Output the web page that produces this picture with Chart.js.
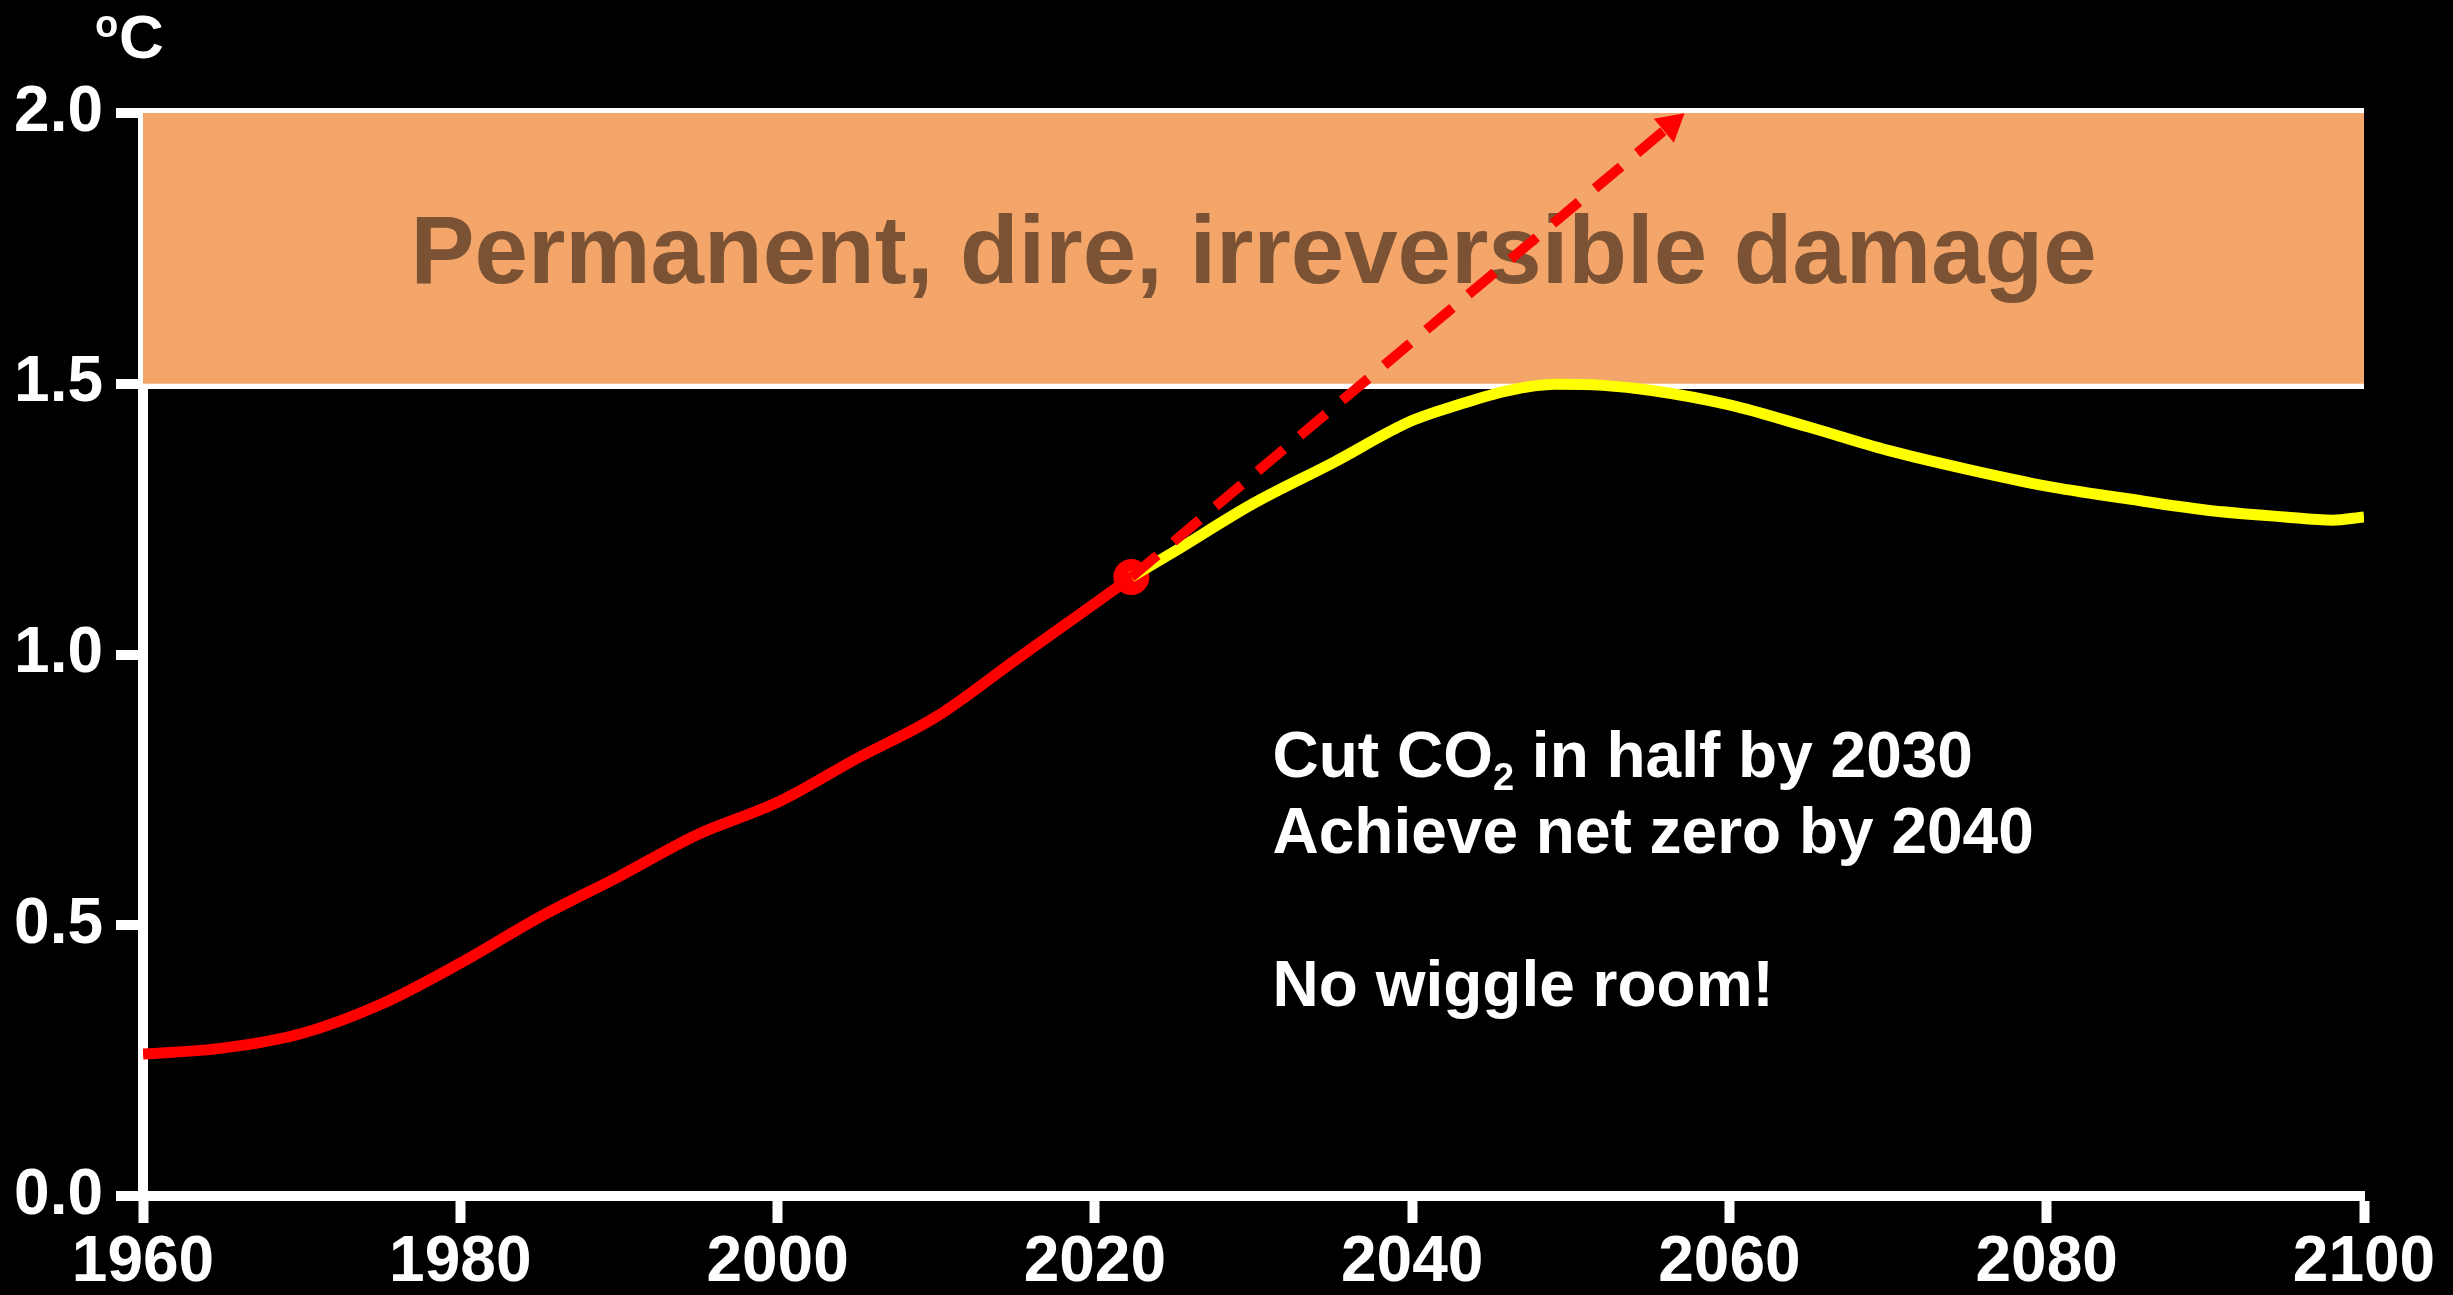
<!DOCTYPE html>
<html>
<head>
<meta charset="utf-8">
<script src="https://cdn.jsdelivr.net/npm/chart.js@4.4.0/dist/chart.umd.min.js"></script>
<style>
  html, body { margin: 0; padding: 0; background: #000; }
  #wrap { width: 2453px; height: 1295px; position: relative; }
</style>
</head>
<body>
<div id="wrap"><canvas id="tempChart"></canvas></div>
<script>
// observed warming (red) up to today
const histYears = [1960, 1965, 1970, 1975, 1980, 1985, 1990, 1995, 2000, 2005, 2010, 2015, 2020, 2022.3];
const histTemps = [0.262, 0.273, 0.30, 0.354, 0.43, 0.515, 0.59, 0.668, 0.727, 0.808, 0.885, 0.99, 1.094, 1.143];

// pathway if CO2 is cut in half by 2030 (yellow)
const pathYears = [2022.3, 2025, 2030, 2035, 2040, 2043, 2046, 2049, 2052, 2055, 2060, 2065, 2070, 2075, 2080, 2085, 2090, 2095, 2098, 2100];
const pathTemps = [1.143, 1.19, 1.279, 1.354, 1.432, 1.462, 1.487, 1.499, 1.497, 1.488, 1.461, 1.42, 1.377, 1.342, 1.311, 1.288, 1.267, 1.254, 1.248, 1.254];

// business as usual trend (dashed arrow)
const trendYears = [2022.3, 2056.3];
const trendTemps = [1.143, 1.978];

const nowYear = 2022.3;
const nowTemp = 1.143;

const bandYears = [1960, 2100];
const bandLow = 1.5;
const bandHigh = 2.0;

const xMin = 1960, xMax = 2100, xStep = 20;
const yMin = 0, yMax = 2, yStep = 0.5;

const bandText = "Permanent, dire, irreversible damage";
const noteLines = ["Cut CO", "Achieve net zero by 2040", "", "No wiggle room!"];

const FONT = '"Liberation Sans", Arial, Helvetica, sans-serif';
const AXIS_W = 10;
const LINE_W = 11;

const pts = (xs, ys) => xs.map((x, i) => ({ x, y: ys[i] }));

const textPlugin = {
  id: "slideText",
  afterDatasetDraw(chart, args) {
    if (args.index !== 0) return;
    const { ctx, scales: { x, y } } = chart;
    ctx.save();
    ctx.fillStyle = "#7b5334";
    ctx.font = "bold 96px " + FONT;
    ctx.textAlign = "center";
    ctx.textBaseline = "alphabetic";
    const cx = (x.left + x.right) / 2;
    const cy = (y.getPixelForValue(bandLow) + y.getPixelForValue(bandHigh)) / 2;
    ctx.fillText(bandText, cx, cy + 96 * 0.716 / 2);
    ctx.restore();
  },
  afterDraw(chart) {
    const { ctx, scales: { x, y } } = chart;
    ctx.save();
    ctx.fillStyle = "#fff";
    ctx.textAlign = "left";
    ctx.textBaseline = "alphabetic";

    // unit label
    ctx.font = "bold 38px " + FONT;
    ctx.fillText("o", 95, 37);
    ctx.font = "bold 62px " + FONT;
    ctx.fillText("C", 119, 58);

    // notes
    const left = x.getPixelForValue(2031.2);
    const base = y.getPixelForValue(0.774);
    const lh = 76;
    ctx.font = "bold 64px " + FONT;
    ctx.fillText(noteLines[0], left, base);
    let w = ctx.measureText(noteLines[0]).width;
    ctx.font = "bold 38px " + FONT;
    ctx.fillText("2", left + w, base + 13);
    w += ctx.measureText("2").width;
    ctx.font = "bold 64px " + FONT;
    ctx.fillText(" in half by 2030", left + w, base);
    ctx.fillText(noteLines[1], left, base + lh);
    ctx.fillText(noteLines[3], left, base + lh * 3 + 1);
    ctx.restore();
  }
};

const ctx = document.getElementById("tempChart").getContext("2d");

new Chart(ctx, {
  type: "line",
  data: {
    datasets: [
      {
        data: pts(bandYears, [bandHigh, bandHigh]),
        borderWidth: 0,
        pointRadius: 0,
        backgroundColor: "#f3a56a",
        fill: { value: bandLow },
        order: 10
      },
      {
        data: pts(histYears, histTemps),
        borderColor: "#ff0000",
        borderWidth: LINE_W,
        pointRadius: 0,
        cubicInterpolationMode: "monotone",
        fill: false,
        order: 4
      },
      {
        data: [{ x: nowYear, y: nowTemp }],
        showLine: false,
        pointRadius: 18,
        pointBackgroundColor: "#ff0000",
        pointBorderWidth: 0,
        order: 3
      },
      {
        data: pts(pathYears, pathTemps),
        borderColor: "#ffff00",
        borderWidth: LINE_W,
        pointRadius: 0,
        cubicInterpolationMode: "monotone",
        fill: false,
        order: 2
      },
      {
        data: pts(trendYears, trendTemps),
        borderColor: "#ff0000",
        borderWidth: 10,
        borderDash: [34, 21],
        borderCapStyle: "butt",
        fill: false,
        pointStyle: "triangle",
        pointRadius: [0, 18],
        pointBackgroundColor: "#ff0000",
        pointBorderWidth: 0,
        pointRotation: c => {
          const sx = c.chart.scales.x, sy = c.chart.scales.y;
          if (!sx || !sy) return 0;
          const dx = sx.getPixelForValue(trendYears[1]) - sx.getPixelForValue(trendYears[0]);
          const dy = sy.getPixelForValue(trendTemps[1]) - sy.getPixelForValue(trendTemps[0]);
          return Math.atan2(dx, -dy) * 180 / Math.PI;
        },
        order: 1
      }
    ]
  },
  options: {
    responsive: true,
    maintainAspectRatio: false,
    devicePixelRatio: 1,
    animation: false,
    events: [],
    layout: { padding: { top: 113, right: 89, left: 0, bottom: 0 } },
    plugins: { legend: { display: false }, tooltip: { enabled: false } },
    scales: {
      x: {
        type: "linear",
        min: xMin,
        max: xMax,
        afterFit: s => { s.height = 99; },
        border: { color: "#fff", width: AXIS_W },
        grid: { drawOnChartArea: false, tickLength: 27, tickColor: "#fff", tickWidth: AXIS_W },
        ticks: {
          stepSize: xStep,
          color: "#fff",
          padding: 2,
          maxRotation: 0,
          font: { family: FONT, size: 64, weight: "bold" },
          callback: v => String(v)
        }
      },
      y: {
        min: yMin,
        max: yMax,
        z: 1,
        afterFit: s => { s.width = 143; },
        border: { color: "#fff", width: AXIS_W },
        grid: {
          color: c => (c.tick && c.tick.value >= bandLow ? "#fff" : "rgba(0,0,0,0)"),
          lineWidth: AXIS_W,
          tickLength: 27,
          tickColor: "#fff",
          tickWidth: AXIS_W
        },
        ticks: {
          stepSize: yStep,
          color: "#fff",
          padding: 13,
          font: { family: FONT, size: 64, weight: "bold" },
          callback: v => Number(v).toFixed(1)
        }
      }
    }
  },
  plugins: [textPlugin]
});
</script>
</body>
</html>
